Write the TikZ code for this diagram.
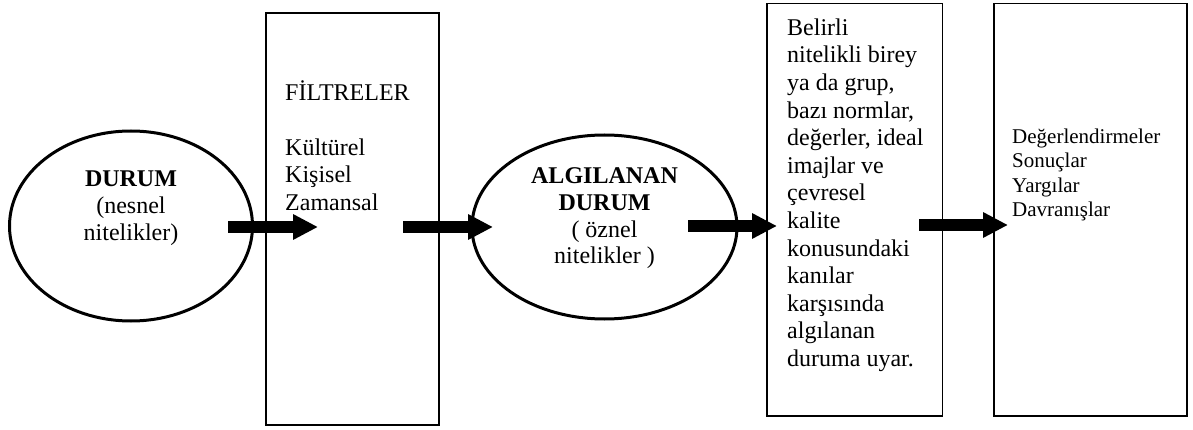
\documentclass[tikz,border=0pt]{standalone}
\usepackage{fontspec}
\setmainfont{Liberation Serif}
\usetikzlibrary{shapes.geometric,arrows.meta}
\begin{document}
\begin{tikzpicture}[x=1pt,y=-1pt,
  oval/.style={ellipse,draw,line width=3pt,inner sep=0pt},
  tallbox/.style={rectangle,draw,line width=1.8pt,inner sep=0pt},
  txt/.style={inner sep=0pt,font=\fontsize{24}{27.6}\selectfont},
  ovaltxt/.style={txt,align=center,anchor=north,font=\fontsize{24}{26.7}\selectfont},
  boxtxt/.style={txt,align=left,anchor=north west},
  blockarrow/.style={line width=12pt,-{Triangle[length=25pt,width=24pt]}}]
\useasboundingbox (0,0) rectangle (1193,430);
% shapes
\node[oval,minimum width=243pt,minimum height=190pt] (durum) at (131,226) {};
\node[tallbox,minimum width=173pt,minimum height=412pt] (filtre) at (352.5,219) {};
\node[oval,minimum width=265pt,minimum height=184pt] (algi) at (604.5,227) {};
\node[tallbox,minimum width=175.5pt,minimum height=412.5pt] (uyar) at (854.75,209.75) {};
\node[tallbox,minimum width=193pt,minimum height=412.5pt] (sonuc) at (1090.5,209.75) {};
% texts
\node[ovaltxt] (durumtxt) at (131,165.5) {\rule{0pt}{21pt}\textbf{DURUM}\\(nesnel\\nitelikler)};
\node[ovaltxt] (algitxt) at (604.5,162.5) {\rule{0pt}{21pt}\textbf{ALGILANAN}\\\textbf{DURUM}\\( öznel\\nitelikler )};
\node[boxtxt] (filtretxt) at (285,79) {\rule{0pt}{21pt}FİLTRELER\\[27.6pt]Kültürel\\Kişisel\\Zamansal};
\node[boxtxt] (uyartxt) at (787,14) {\rule{0pt}{21pt}Belirli\\nitelikli birey\\ya da grup,\\bazı normlar,\\değerler, ideal\\imajlar ve\\çevresel\\kalite\\konusundaki\\kanılar\\karşısında\\algılanan\\duruma uyar.};
\node[boxtxt,font=\fontsize{21}{24.4}\selectfont] (sonuctxt) at (1012,124.3) {\rule{0pt}{19pt}Değerlendirmeler\\Sonuçlar\\Yargılar\\Davranışlar};
% arrows
\coordinate (a1s) at (228,227);
\coordinate (a1e) at (318,227);
\coordinate (a2s) at (403,227);
\coordinate (a2e) at (493,227);
\coordinate (a3s) at (688,226);
\coordinate (a3e) at (777,226);
\coordinate (a4s) at (919,225);
\coordinate (a4e) at (1008,225);
\draw[blockarrow] (a1s) -- (a1e);
\draw[blockarrow] (a2s) -- (a2e);
\draw[blockarrow] (a3s) -- (a3e);
\draw[blockarrow] (a4s) -- (a4e);
\end{tikzpicture}
\end{document}
